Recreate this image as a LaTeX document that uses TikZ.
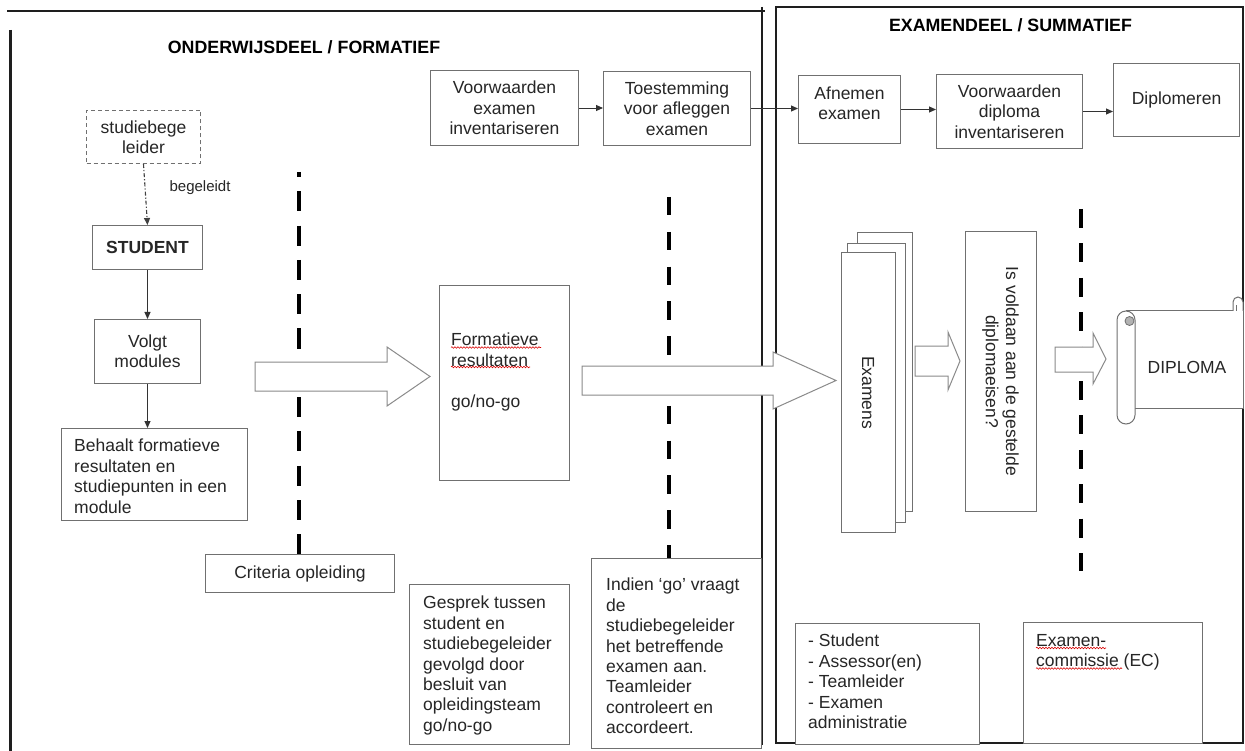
\documentclass[tikz,border=0pt]{standalone}
\usepackage{fontspec}
\setmainfont{Liberation Sans}
\usetikzlibrary{arrows.meta,decorations.pathmorphing,calc}
\definecolor{boxgray}{HTML}{707070}
\definecolor{txtgray}{HTML}{262626}
\definecolor{arrgray}{HTML}{8A8A8A}
\definecolor{framec}{HTML}{1E1E1E}
\newcommand\fsz{\fontsize{17.5pt}{20.4pt}\selectfont}
\newcommand\fsb{\fontsize{17.8pt}{21pt}\selectfont\bfseries}
\newcommand\fss{\fontsize{15pt}{18pt}\selectfont}
\begin{document}
\begin{tikzpicture}[x=1pt,y=-1pt,
  box/.style={draw=boxgray, line width=1pt, fill=white, inner sep=0pt, font=\fsz, text=txtgray, align=center},
  txtnode/.style={inner sep=0pt, font=\fsz, text=txtgray, align=left, anchor=north west},
  flow/.style={draw=black!80, line width=0.9pt, -{Triangle[length=7pt,width=6pt]}},
  divider/.style={line width=4.5pt, draw=black},
  block/.style={draw=arrgray, line width=1pt, fill=white},
  frameline/.style={line width=2pt, draw=framec},
  title/.style={font=\fsb, text=black, inner sep=0pt},
  spell/.style={draw=red!85!black, line width=0.6pt, decorate, decoration={snake, amplitude=0.8pt, segment length=3pt}},
  scrollst/.style={draw=boxgray, line width=1pt, fill=white}
]
\useasboundingbox (0,0) rectangle (1245,751);
\fill[white] (0,0) rectangle (1245,751);

% frames
\draw[frameline] (7,11) -- (765,11);
\draw[frameline, line width=2.2pt] (762,7) -- (762,745);
\draw[frameline, line width=3pt] (10,30) -- (10,751);
\draw[frameline] (776,7) rectangle (1243,743);

% titles
\node[title] (t1) at (304,47) {ONDERWIJSDEEL / FORMATIEF};
\node[title] (t2) at (1010.5,25) {EXAMENDEEL / SUMMATIEF};

% left column
\node[box, dash pattern=on 4pt off 3pt, minimum width=114pt, minimum height=53pt, anchor=north west] (sb) at (86,110) {studiebege\\leider};
\node[box, minimum width=110pt, minimum height=44pt, anchor=north west] (st) at (92,225) {\textbf{STUDENT}};
\node[box, minimum width=106pt, minimum height=64pt, anchor=north west] (vm) at (94,319) {Volgt\\modules};
\node[box, minimum width=186pt, minimum height=92pt, anchor=north west] (bh) at (61,428) {};
\node[txtnode] (bhT) at (74,439) {Behaalt formatieve\\resultaten en\\studiepunten in een\\module};

\draw[draw=black!75, line width=1.1pt, dash pattern=on 4pt off 2pt on 1.2pt off 2pt, -{Triangle[length=7pt,width=6pt]}]
  (sb.south) -- node[pos=0.38, anchor=west, xshift=24pt, inner sep=0pt, font=\fss, text=txtgray] (lbl) {begeleidt} (st.north);
\draw[flow] (st.south) -- (vm.north);
\draw[flow] (vm.south) -- (vm.south |- bh.north);

% criteria / dividers
\node[box, minimum width=189pt, minimum height=38pt, anchor=north west] (cr) at (205,554) {Criteria opleiding};
\coordinate (d1) at (299,172);
\draw[divider, dash pattern=on 20pt off 14.3pt, dash phase=15pt] (d1) -- (d1 |- cr.north);

\node[box, minimum width=170pt, minimum height=190pt, anchor=north west] (ind) at (591,558) {};
\node[txtnode] (indT) at (606,578) {Indien ‘go’ vraagt\\de\\studiebegeleider\\het betreffende\\examen aan.\\Teamleider\\controleert en\\accordeert.};
\coordinate (d2) at (669,197);
\draw[divider, dash pattern=on 18.5pt off 16.3pt] (d2) -- (d2 |- ind.north);

\coordinate (d3a) at (1081,209);
\coordinate (d3b) at (1081,571);
\draw[divider, dash pattern=on 19pt off 15.4pt] (d3a) -- (d3b);

% middle
\node[box, minimum width=130pt, minimum height=195pt, anchor=north west] (fr) at (439,285) {};
\node[txtnode] (frT) at (451,333) {Formatieve\\resultaten\\[20.4pt]go/no-go};
\draw[spell] (451,347.5) -- (541,347.5);
\draw[spell] (451,367) -- (530,367);

\node[box, minimum width=160pt, minimum height=160pt, anchor=north west] (gs) at (409,584) {};
\node[txtnode] (gsT) at (423,596) {Gesprek tussen\\student en\\studiebegeleider\\gevolgd door\\besluit van\\opleidingsteam\\go/no-go};

% block arrows
\draw[block] (255,362) -- (387,362) -- (387,347) -- (430,376.5) -- (387,406) -- (387,391) -- (255,391) -- cycle;
\draw[block] (582,366) -- (773,366) -- (773,352) -- (836,380.5) -- (773,409) -- (773,395) -- (582,395) -- cycle;
\draw[block] (915,346) -- (948,346) -- (948,332) -- (960,361) -- (948,390) -- (948,376) -- (915,376) -- cycle;
\draw[block] (1055,347) -- (1093,347) -- (1093,333) -- (1106,359) -- (1093,384) -- (1093,372) -- (1055,372) -- cycle;

% top row
\node[box, minimum width=148pt, minimum height=75pt, anchor=north west] (ve) at (430,70) {Voorwaarden\\examen\\inventariseren};
\node[box, minimum width=147pt, minimum height=74pt, anchor=north west] (ts) at (603,71) {Toestemming\\voor afleggen\\examen};
\node[box, minimum width=102pt, minimum height=68pt, anchor=north west] (af) at (798,75) {};
\node[inner sep=0pt, font=\fsz, text=txtgray, align=center] (afT) at ([yshift=6pt]af.center) {Afnemen\\examen};
\node[box, minimum width=146pt, minimum height=74pt, anchor=north west] (vd) at (936,74) {Voorwaarden\\diploma\\inventariseren};
\node[box, minimum width=126pt, minimum height=73pt, anchor=north west] (dp) at (1113,63) {Diplomeren};
\draw[flow] (ve.east) -- (ve.east -| ts.west);
\draw[flow] (ts.east) -- (ts.east -| af.west);
\draw[flow] (af.east) -- (af.east -| vd.west);
\draw[flow] (vd.east) -- (vd.east -| dp.west);

% examens stack
\node[box, minimum width=55pt, minimum height=279pt, anchor=north west] (ex3) at (857,232) {};
\node[box, minimum width=58pt, minimum height=279pt, anchor=north west] (ex2) at (847,243) {};
\node[box, rotate=-90, minimum width=279pt, minimum height=54pt] (ex1) at (868,392.5) {Examens};
\node[box, rotate=-90, minimum width=279pt, minimum height=71pt] (iv) at (1000.5,371.5) {Is voldaan aan de gestelde\\diplomaeisen?};

% diploma scroll
\begin{scope}
\clip (0,0) rectangle (1245,751);
\draw[scrollst] (1126,311) -- (1243,311) -- (1243,408) -- (1135,408);
\draw[scrollst] (1117,320) -- (1117,415) arc[start angle=180, end angle=360, radius=9pt] -- (1135,320) arc[start angle=0, end angle=180, radius=9pt] -- cycle;
\filldraw[draw=boxgray, fill=black!30, line width=0.8pt] (1129.5,321) circle[radius=4.5pt];
\draw[scrollst] (1233,311) -- (1233,302) arc[start angle=180, end angle=0, radius=5pt] -- (1243,311);
\draw[draw=boxgray, line width=0.8pt] (1236.5,311) -- (1236.5,305);
\end{scope}
\node[inner sep=0pt, font=\fsz, text=txtgray] (dip) at (1187,367) {DIPLOMA};

% bottom right
\node[box, minimum width=184pt, minimum height=121pt, anchor=north west] (sl) at (795,623) {};
\node[txtnode] (slT) at (808,634) {- Student\\- Assessor(en)\\- Teamleider\\- Examen\\administratie};
\node[box, minimum width=179pt, minimum height=121pt, anchor=north west] (ec) at (1023,622) {};
\node[txtnode] (ecT) at (1036,634) {Examen-\\commissie (EC)};
\draw[spell] (1036,648) -- (1106,648);
\draw[spell] (1036,668.5) -- (1122,668.5);
\end{tikzpicture}
\end{document}
